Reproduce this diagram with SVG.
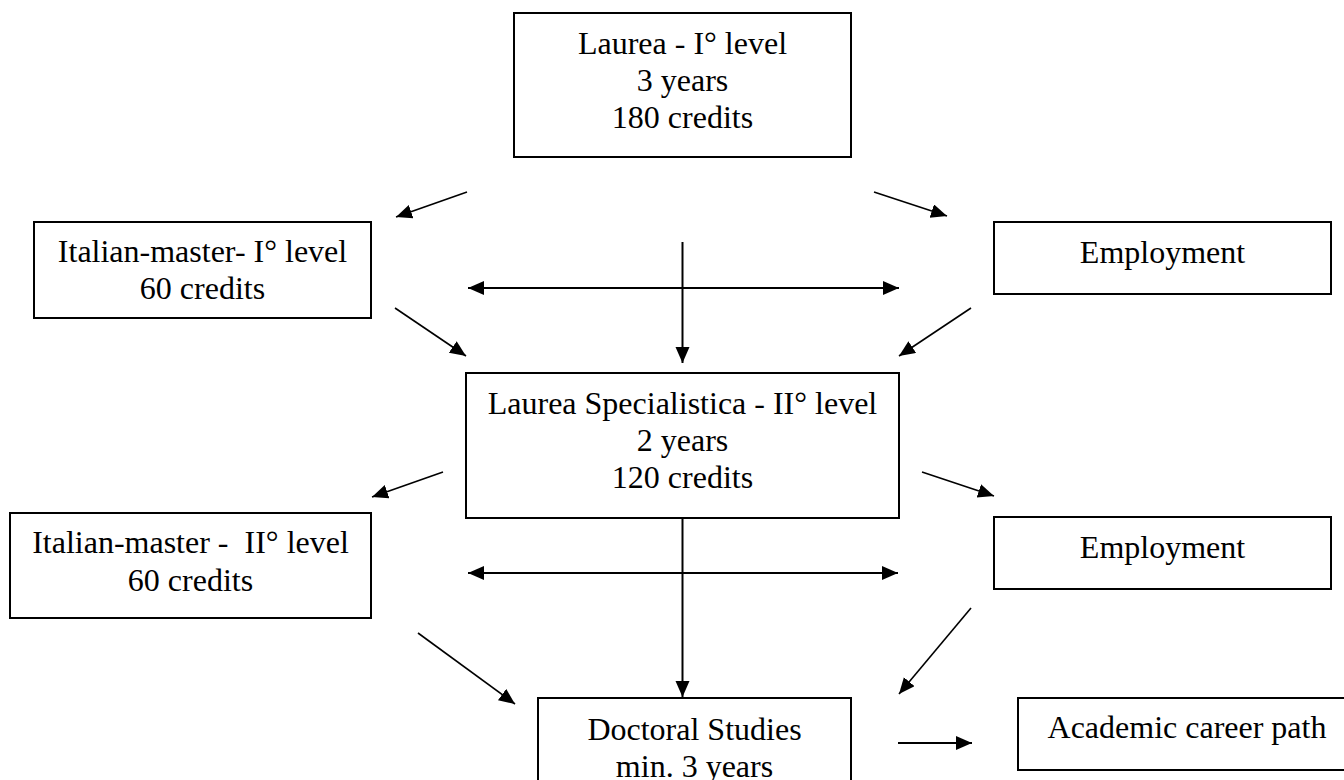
<svg xmlns="http://www.w3.org/2000/svg" width="1344" height="780" viewBox="0 0 1344 780">
<style>
.box{fill:#fff;stroke:#000;stroke-width:2}
.t{font-family:"Liberation Serif","Times New Roman",serif;font-size:32px;fill:#000;text-anchor:middle;white-space:pre}
.c{stroke:#000;stroke-width:2;fill:none}
.d{stroke:#000;stroke-width:1.6;fill:none}
</style>
<defs>
<marker id="ah" markerUnits="userSpaceOnUse" markerWidth="18" markerHeight="16" refX="16" refY="7" orient="auto-start-reverse">
<path d="M0,0 L16,7 L0,14 z" fill="#000"/>
</marker>
</defs>
<rect width="1344" height="780" fill="#fff"/>
<g id="connectors">
<line class="d" x1="467" y1="192" x2="396" y2="217" marker-end="url(#ah)"/>
<line class="d" x1="874" y1="192" x2="947" y2="216" marker-end="url(#ah)"/>
<line class="c" x1="682.5" y1="242" x2="682.5" y2="363" marker-end="url(#ah)"/>
<line class="c" x1="468" y1="288" x2="899" y2="288" marker-start="url(#ah)" marker-end="url(#ah)"/>
<line class="d" x1="395" y1="308" x2="466" y2="356" marker-end="url(#ah)"/>
<line class="d" x1="971" y1="308" x2="899" y2="356" marker-end="url(#ah)"/>
<line class="d" x1="443" y1="472" x2="372" y2="497" marker-end="url(#ah)"/>
<line class="d" x1="922" y1="472" x2="994" y2="496" marker-end="url(#ah)"/>
<line class="c" x1="468" y1="573" x2="898" y2="573" marker-start="url(#ah)" marker-end="url(#ah)"/>
<line class="c" x1="682.5" y1="501" x2="682.5" y2="697" marker-end="url(#ah)"/>
<line class="d" x1="418" y1="633" x2="515" y2="704" marker-end="url(#ah)"/>
<line class="d" x1="971" y1="608" x2="899" y2="694" marker-end="url(#ah)"/>
<line class="c" x1="898" y1="743" x2="972" y2="743" marker-end="url(#ah)"/>
</g>
<g id="laurea1">
<rect class="box" x="514" y="13" width="337" height="144"/>
<text class="t" x="682.5" y="54">Laurea - I° level</text>
<text class="t" x="682.5" y="91">3 years</text>
<text class="t" x="682.5" y="128">180 credits</text>
</g>
<g id="master1">
<rect class="box" x="34" y="222" width="337" height="96"/>
<text class="t" x="202.5" y="262">Italian-master- I° level</text>
<text class="t" x="202.5" y="299">60 credits</text>
</g>
<g id="employment1">
<rect class="box" x="994" y="222" width="337" height="72"/>
<text class="t" x="1162.5" y="263">Employment</text>
</g>
<g id="laurea2">
<rect class="box" x="466" y="373" width="433" height="145"/>
<text class="t" x="682.5" y="414">Laurea Specialistica - II° level</text>
<text class="t" x="682.5" y="451">2 years</text>
<text class="t" x="682.5" y="488">120 credits</text>
</g>
<g id="master2">
<rect class="box" x="10" y="513" width="361" height="105"/>
<text class="t" x="190.5" y="553" xml:space="preserve">Italian-master -  II° level</text>
<text class="t" x="190.5" y="591">60 credits</text>
</g>
<g id="employment2">
<rect class="box" x="994" y="517" width="337" height="72"/>
<text class="t" x="1162.5" y="558">Employment</text>
</g>
<g id="doctoral">
<rect class="box" x="538" y="698" width="313" height="110"/>
<text class="t" x="694.5" y="740">Doctoral Studies</text>
<text class="t" x="694.5" y="777">min. 3 years</text>
</g>
<g id="academic">
<rect class="box" x="1018" y="698" width="338" height="72"/>
<text class="t" x="1187" y="738">Academic career path</text>
</g>
</svg>
